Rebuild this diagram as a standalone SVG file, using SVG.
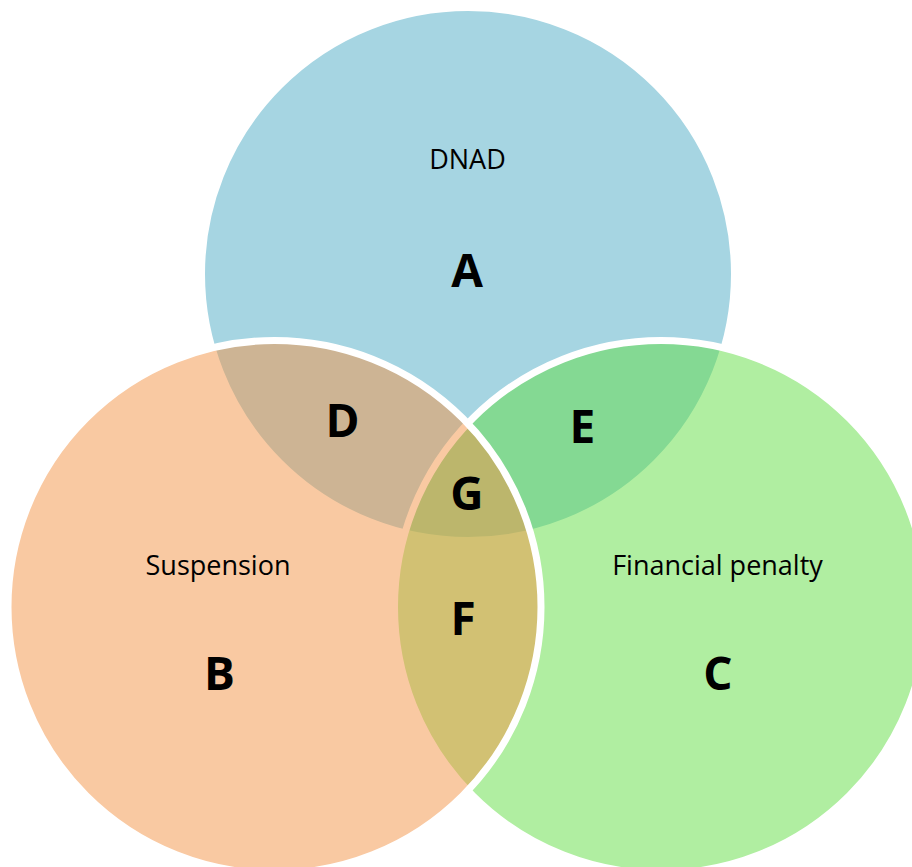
<svg xmlns="http://www.w3.org/2000/svg" width="912" height="867" viewBox="0 0 912 867">
<style>
.c{stroke:#ffffff;stroke-width:7;fill-opacity:0.5}
.lbl{font-family:"Open Sans","Noto Sans","Liberation Sans",sans-serif;font-size:27px;fill:#000;text-anchor:middle}
.big{font-family:"Open Sans","Noto Sans","Liberation Sans",sans-serif;font-size:46px;font-weight:bold;fill:#000;text-anchor:middle}
</style>
<rect width="912" height="867" fill="#ffffff"/>
<g id="circleA">
<circle class="c" cx="468" cy="274" r="266.5" fill="#4DABC5"/>
</g>
<g id="circleC">
<circle class="c" cx="661" cy="607" r="266.5" fill="#61DD43"/>
</g>
<g id="circleB">
<circle class="c" cx="274.5" cy="607" r="266.5" fill="#F39345"/>
</g>
<g id="connectors"></g>
<g id="labels">
<g id="nodeA"><text class="lbl" x="467.5" y="169">DNAD</text><text class="big" x="467" y="287">A</text></g>
<g id="nodeB"><text class="lbl" x="218" y="575">Suspension</text><text class="big" x="219.5" y="690">B</text></g>
<g id="nodeC"><text class="lbl" x="717.5" y="575">Financial penalty</text><text class="big" x="718" y="690">C</text></g>
<g id="nodeD"><text class="big" x="342.5" y="437">D</text></g>
<g id="nodeE"><text class="big" x="582.5" y="443">E</text></g>
<g id="nodeG"><text class="big" x="467" y="510">G</text></g>
<g id="nodeF"><text class="big" x="463" y="635">F</text></g>
</g>
</svg>
